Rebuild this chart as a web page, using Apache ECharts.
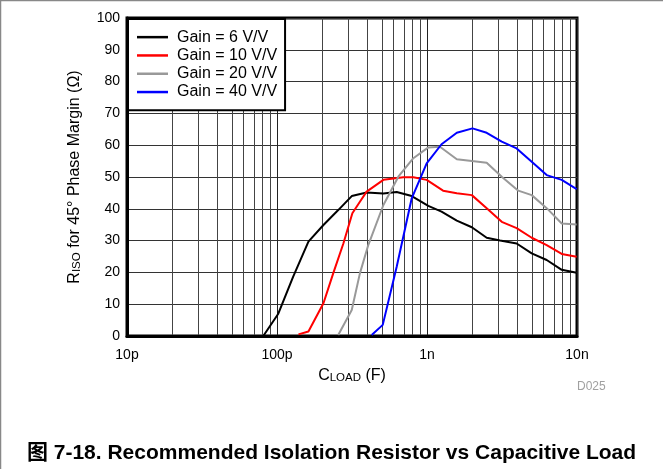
<!DOCTYPE html>
<html>
<head>
<meta charset="utf-8">
<script src="https://cdn.jsdelivr.net/npm/echarts@6/dist/echarts.min.js"></script>
<style>
html,body{margin:0;padding:0;background:#fff;}
#c{width:663px;height:469px;}
</style>
</head>
<body>
<div id="c"></div>
<script>
// Capacitance in farads, R_ISO in ohms
var gain6C = [81e-12, 102e-12, 128e-12, 162e-12, 204e-12, 256e-12, 315e-12, 396e-12, 512e-12, 628e-12, 791e-12, 1.02e-9, 1.25e-9, 1.58e-9, 1.99e-9, 2.5e-9, 3.07e-9, 3.96e-9, 4.99e-9, 6.28e-9, 7.91e-9, 9.95e-9];
var gain6R = [0, 7, 18.6, 29.7, 34.9, 39.6, 44.0, 45.1, 44.8, 45.3, 44.0, 40.9, 39.1, 36.3, 34.2, 30.9, 30.0, 29.1, 26.0, 23.9, 20.8, 19.9];

var gain10C = [139e-12, 162e-12, 204e-12, 237e-12, 277e-12, 318e-12, 357e-12, 396e-12, 512e-12, 695e-12, 811e-12, 995e-12, 1.28e-9, 1.58e-9, 1.99e-9, 2.5e-9, 3.15e-9, 3.96e-9, 4.99e-9, 6.28e-9, 7.91e-9, 9.95e-9];
var gain10R = [0.5, 1.4, 10.3, 19.7, 29.1, 38.6, 42.2, 45.4, 49.1, 49.9, 49.9, 49.1, 45.7, 44.9, 44.3, 40.2, 35.9, 33.9, 30.9, 28.6, 25.8, 24.9];

var gain20C = [256e-12, 315e-12, 357e-12, 406e-12, 512e-12, 644e-12, 811e-12, 1.02e-9, 1.22e-9, 1.58e-9, 1.99e-9, 2.5e-9, 3.15e-9, 4.06e-9, 4.99e-9, 6.28e-9, 7.91e-9, 9.95e-9];
var gain20R = [0.3, 8.2, 19.7, 28.6, 41.2, 50.1, 55.9, 59.3, 59.5, 55.6, 55.0, 54.5, 50.1, 45.7, 44.3, 40.2, 35.4, 35.1];

var gain40C = [428e-12, 507e-12, 628e-12, 791e-12, 995e-12, 1.25e-9, 1.58e-9, 2.01e-9, 2.5e-9, 3.15e-9, 3.96e-9, 4.99e-9, 6.28e-9, 7.91e-9, 9.95e-9];
var gain40R = [0.3, 3.5, 21.8, 43.3, 54.3, 60.3, 63.9, 65.3, 63.9, 61.1, 59.0, 54.8, 50.6, 49.1, 46.2];

var seriesNames = ['Gain = 6 V/V', 'Gain = 10 V/V', 'Gain = 20 V/V', 'Gain = 40 V/V'];
var xTickLabels = {'-11': '10p', '-10': '100p', '-9': '1n', '-8': '10n'};
var yMin = 0, yMax = 100, yStep = 10;

function pairs(xs, ys) { return xs.map(function (x, i) { return [x, ys[i]]; }); }

var colors = ['#000000', '#ff0000', '#999999', '#0000ff'];
var datasets = [pairs(gain6C, gain6R), pairs(gain10C, gain10R), pairs(gain20C, gain20R), pairs(gain40C, gain40R)];

var font = 'Liberation Sans, Arial, Noto Sans CJK SC, sans-serif';
var chart = echarts.init(document.getElementById('c'), null, {renderer: 'canvas'});
chart.setOption({
  animation: false,
  backgroundColor: '#fff',
  textStyle: {fontFamily: font},
  grid: {left: 127, top: 18, width: 450, height: 318, show: true, borderColor: '#000', borderWidth: 3, backgroundColor: 'transparent'},
  title: [
    {text: '图 7-18. Recommended Isolation Resistor vs Capacitive Load', left: 'center', top: 438,
     textStyle: {fontFamily: font, fontWeight: 'bold', fontSize: 21, color: '#000'}},
    {text: 'D025', left: 572, top: 376, textStyle: {fontFamily: font, fontWeight: 'normal', fontSize: 12, color: '#a0a0a0'}}
  ],
  legend: {
    left: 128, top: 19, orient: 'vertical',
    data: seriesNames,
    icon: 'rect', itemWidth: 31, itemHeight: 2.5, itemGap: 0,
    padding: [9, 8, 9, 9],
    backgroundColor: '#fff', borderColor: '#000', borderWidth: 2,
    textStyle: {fontFamily: font, fontSize: 16, color: '#000', lineHeight: 18.3, padding: [0, 0, 0, 4]},
    selectedMode: false
  },
  xAxis: {
    type: 'log', logBase: 10, min: 1e-11, max: 1e-8,
    axisLine: {show: true, lineStyle: {color: '#000', width: 3}},
    axisTick: {show: false},
    splitLine: {show: true, lineStyle: {color: '#222', width: 1}},
    minorTick: {show: false, splitNumber: 9},
    minorSplitLine: {show: true, lineStyle: {color: '#444', width: 1}},
    axisLabel: {fontFamily: font, fontSize: 14, color: '#000', margin: 12,
      formatter: function (v) { var e = Math.round(Math.log10(v)); return xTickLabels[String(e)] || ''; }},
    name: 'C{s|LOAD} (F)', nameLocation: 'middle', nameGap: 31,
    nameTextStyle: {fontFamily: font, fontSize: 16, color: '#000',
      rich: {s: {fontFamily: font, fontSize: 11.5, color: '#000', verticalAlign: 'bottom', padding: [5, 0, 0, 0]}}}
  },
  yAxis: {
    type: 'value', min: yMin, max: yMax, interval: yStep,
    axisLine: {show: true, lineStyle: {color: '#000', width: 3}},
    axisTick: {show: false},
    splitLine: {show: true, lineStyle: {color: '#333', width: 1}},
    axisLabel: {fontFamily: font, fontSize: 14, color: '#000', margin: 7},
    name: 'R{s|ISO} for 45° Phase Margin (Ω)', nameLocation: 'middle', nameGap: 44, nameRotate: 90,
    nameTextStyle: {fontFamily: font, fontSize: 16, color: '#000',
      rich: {s: {fontFamily: font, fontSize: 11.5, color: '#000', verticalAlign: 'bottom', padding: [5, 0, 0, 0]}}}
  },
  series: datasets.map(function (d, i) {
    return {
      name: seriesNames[i], type: 'line', data: d, showSymbol: false, symbol: 'none',
      lineStyle: {color: colors[i], width: 2}, itemStyle: {color: colors[i]}, z: 3 + i
    };
  }),
  graphic: [
    {type: 'line', shape: {x1: 0, y1: 0.5, x2: 663, y2: 0.5}, style: {stroke: '#888', lineWidth: 1.5}},
    {type: 'line', shape: {x1: 0.5, y1: 0, x2: 0.5, y2: 469}, style: {stroke: '#888', lineWidth: 1.5}}
  ]
});
</script>
</body>
</html>
